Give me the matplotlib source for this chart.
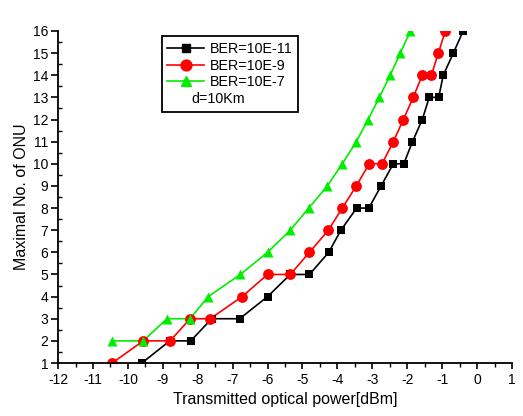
"""Maximal number of ONUs vs transmitted optical power."""

import matplotlib

matplotlib.use("Agg")
import matplotlib.pyplot as plt
from matplotlib.lines import Line2D
from matplotlib.ticker import MultipleLocator

plt.rcParams["font.family"] = ["Liberation Sans", "DejaVu Sans"]
plt.rcParams["axes.unicode_minus"] = False

# BER = 10E-11 (black squares)
ber11_x = [-9.6, -8.8, -8.2, -7.6, -6.8, -6.0, -5.35, -4.8, -4.25, -3.9, -3.45,
           -3.1, -2.75, -2.4, -2.1, -1.85, -1.57, -1.37, -1.1, -0.97, -0.68, -0.4]
ber11_y = [1, 2, 2, 3, 3, 4, 5, 5, 6, 7, 8, 8, 9, 10, 10, 11, 12, 13, 13, 14, 15, 16]

# BER = 10E-9 (red circles)
ber9_x = [-10.45, -9.56, -8.79, -8.22, -7.64, -6.73, -6.0, -5.35, -4.8, -4.26,
          -3.86, -3.46, -3.09, -2.72, -2.4, -2.11, -1.83, -1.57, -1.31, -1.11, -0.91]
ber9_y = [1, 2, 2, 3, 3, 4, 5, 5, 6, 7, 8, 9, 10, 10, 11, 12, 13, 14, 14, 15, 16]

# BER = 10E-7 (green triangles)
ber7_x = [-10.45, -9.56, -8.88, -8.22, -7.7, -6.78, -6.0, -5.35, -4.82, -4.29,
          -3.86, -3.46, -3.12, -2.8, -2.49, -2.2, -1.91]
ber7_y = [2, 2, 3, 3, 4, 5, 6, 7, 8, 9, 10, 11, 12, 13, 14, 15, 16]

labels = ["BER=10E-11", "BER=10E-9", "BER=10E-7"]
note = "d=10Km"

series = [
    (ber11_x, ber11_y, "black", "s", 6.3),
    (ber9_x, ber9_y, "#ff0000", "o", 7.8),
    (ber7_x, ber7_y, "#00ee00", "^", 7.2),
]

fig = plt.figure(figsize=(5.23, 4.16), dpi=100)
ax = fig.add_axes([0.111, 0.1274, 0.868, 0.7981])

handles = []
for (xs, ys, col, mk, ms), lab in zip(series, labels):
    ax.plot(xs, ys, color=col, lw=1.2, zorder=2)
    # scatter so the markers on the frame edge get cut like the original
    ax.scatter(xs, ys, marker=mk, s=ms ** 2, color=col, linewidths=0, zorder=3)
    handles.append(Line2D([], [], color=col, lw=1.2, marker=mk, ms=ms, label=lab))

ax.set_xlim(-12, 1)
ax.set_ylim(1, 16)
ax.xaxis.set_major_locator(MultipleLocator(1))
ax.xaxis.set_minor_locator(MultipleLocator(0.5))
ax.yaxis.set_major_locator(MultipleLocator(1))
ax.yaxis.set_minor_locator(MultipleLocator(0.5))
ax.spines["top"].set_visible(False)
ax.spines["right"].set_visible(False)
for s in ("left", "bottom"):
    ax.spines[s].set_linewidth(1.3)
    ax.spines[s].set_zorder(4)
ax.tick_params(axis="x", which="major", direction="out", length=4, width=1.2,
               labelsize=10, pad=3)
ax.tick_params(axis="x", which="minor", direction="out", length=3, width=1.0)
ax.tick_params(axis="y", which="major", direction="out", length=5, width=1.2,
               labelsize=10, pad=2)
ax.tick_params(axis="y", which="minor", direction="in", length=3, width=1.0)

ax.set_xlabel("Transmitted optical power[dBm]", fontsize=11.5, labelpad=4)
ax.set_ylabel("Maximal No. of ONU", fontsize=11.5, labelpad=3)

handles.append(Line2D([], [], color="none"))
leg = ax.legend(handles, labels + [note], loc="upper left",
                bbox_to_anchor=(0.228, 0.985),
                fontsize=10.3, frameon=True, fancybox=False, edgecolor="black",
                framealpha=1, labelspacing=0.2, handlelength=2.6,
                handletextpad=0.35, borderpad=0.4, borderaxespad=0)
leg.get_frame().set_linewidth(1.3)
leg.set_zorder(5)
leg.get_texts()[3].set_x(-18)

fig.savefig("out.png", dpi=100)
